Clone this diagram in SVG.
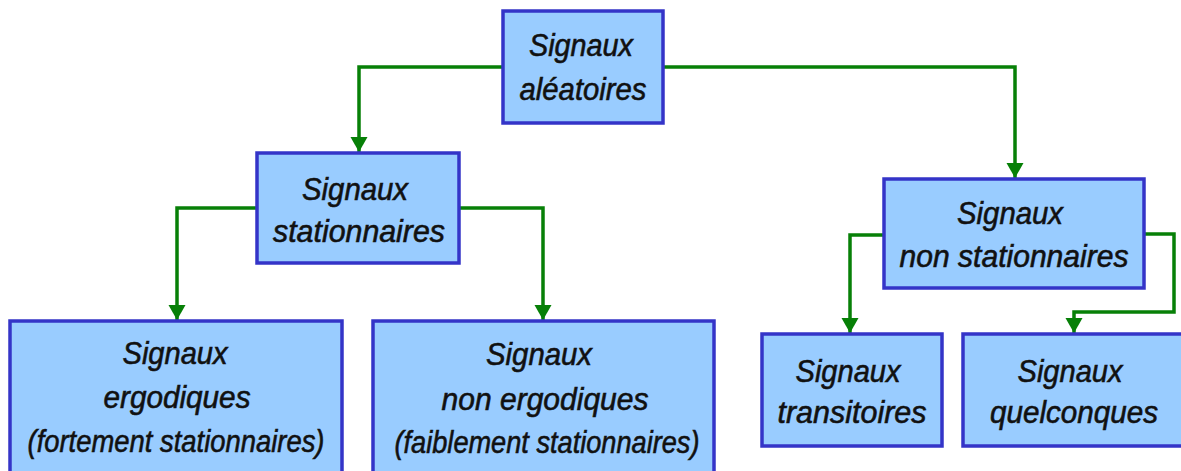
<svg xmlns="http://www.w3.org/2000/svg" width="1181" height="471" viewBox="0 0 1181 471">
<defs>
<marker id="arr" markerUnits="userSpaceOnUse" markerWidth="18" markerHeight="18" viewBox="0 0 18 18" refX="15" refY="9" orient="auto">
<path d="M0,0.5 L15,9 L0,17.5 Z" fill="#078007"/>
</marker>
<style>
.box{fill:#99ccff;stroke:#3434c8;stroke-width:3.5}
.t{font-family:"Liberation Sans",Arial,sans-serif;font-style:italic;font-size:32px;fill:#111;text-anchor:middle;stroke:#111;stroke-width:0.6}
.c{fill:none;stroke:#078007;stroke-width:3.5;marker-end:url(#arr)}
</style>
</defs>
<rect width="1181" height="471" fill="#fff"/>
<g id="connectors">
<path class="c" d="M503,67 H359 V152"/>
<path class="c" d="M663,67 H1015 V178"/>
<path class="c" d="M256,208 H177 V320"/>
<path class="c" d="M459,208 H543 V320"/>
<path class="c" d="M884,235 H850 V333"/>
<path class="c" d="M1144,234 H1174 V312 H1074 V333"/>
</g>
<g id="n-aleatoires">
<rect class="box" x="503" y="11" width="160" height="112"/>
<text class="t" x="581" y="56" textLength="104" lengthAdjust="spacingAndGlyphs">Signaux</text>
<text class="t" x="583" y="100" textLength="127" lengthAdjust="spacingAndGlyphs">aléatoires</text>
</g>
<g id="n-stationnaires">
<rect class="box" x="257" y="153" width="202" height="110"/>
<text class="t" x="355" y="200" textLength="106" lengthAdjust="spacingAndGlyphs">Signaux</text>
<text class="t" x="359" y="242" textLength="172" lengthAdjust="spacingAndGlyphs">stationnaires</text>
</g>
<g id="n-nonstationnaires">
<rect class="box" x="884" y="179" width="260" height="109"/>
<text class="t" x="1010" y="224" textLength="106" lengthAdjust="spacingAndGlyphs">Signaux</text>
<text class="t" x="1014" y="267" textLength="229" lengthAdjust="spacingAndGlyphs">non stationnaires</text>
</g>
<g id="n-ergodiques">
<rect class="box" x="10" y="321" width="332" height="160"/>
<text class="t" x="175" y="364" textLength="105" lengthAdjust="spacingAndGlyphs">Signaux</text>
<text class="t" x="177" y="408" textLength="147" lengthAdjust="spacingAndGlyphs">ergodiques</text>
<text class="t" x="176" y="452" textLength="297" lengthAdjust="spacingAndGlyphs">(fortement stationnaires)</text>
</g>
<g id="n-nonergodiques">
<rect class="box" x="373" y="321" width="341" height="160"/>
<text class="t" x="539" y="365" textLength="106" lengthAdjust="spacingAndGlyphs">Signaux</text>
<text class="t" x="545" y="410" textLength="207" lengthAdjust="spacingAndGlyphs">non ergodiques</text>
<text class="t" x="547" y="453" textLength="305" lengthAdjust="spacingAndGlyphs">(faiblement stationnaires)</text>
</g>
<g id="n-transitoires">
<rect class="box" x="762" y="334" width="180" height="112"/>
<text class="t" x="848" y="382" textLength="105" lengthAdjust="spacingAndGlyphs">Signaux</text>
<text class="t" x="852" y="423" textLength="149" lengthAdjust="spacingAndGlyphs">transitoires</text>
</g>
<g id="n-quelconques">
<rect class="box" x="963" y="334" width="230" height="112"/>
<text class="t" x="1070" y="382" textLength="105" lengthAdjust="spacingAndGlyphs">Signaux</text>
<text class="t" x="1074" y="423" textLength="168" lengthAdjust="spacingAndGlyphs">quelconques</text>
</g>
</svg>
